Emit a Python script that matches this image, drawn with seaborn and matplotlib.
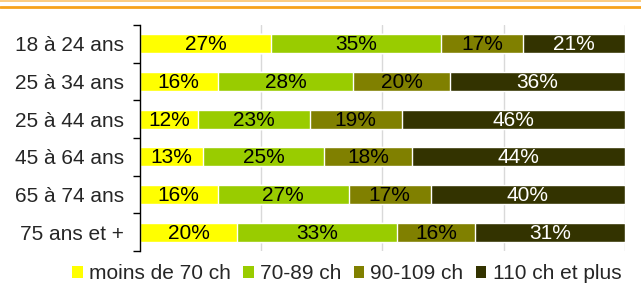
import pandas as pd
import numpy as np
import matplotlib
matplotlib.use("Agg")
import matplotlib.pyplot as plt
import seaborn as sns
from matplotlib.lines import Line2D
from matplotlib.patches import Patch

ages = ["18 à 24 ans", "25 à 34 ans", "25 à 44 ans", "45 à 64 ans", "65 à 74 ans", "75 ans et +"]
series = ["moins de 70 ch", "70-89 ch", "90-109 ch", "110 ch et plus"]
moins70 = [27, 16, 12, 13, 16, 20]
ch70_89 = [35, 28, 23, 25, 27, 33]
ch90_109 = [17, 20, 19, 18, 17, 16]
ch110 = [21, 36, 46, 44, 40, 31]
colors = ["#FFFF00", "#99CC00", "#808000", "#333300"]
text_colors = ["black", "black", "black", "white"]

df = pd.DataFrame({"age": ages, series[0]: moins70, series[1]: ch70_89,
                   series[2]: ch90_109, series[3]: ch110})
cum = df[series].cumsum(axis=1)

sns.set_style("white")
plt.rcParams["font.family"] = ["Liberation Sans", "DejaVu Sans"]

fig = plt.figure(figsize=(6.41, 2.89), dpi=100)
ax = fig.add_axes([0.2184, 0.1315, 0.7566, 0.782])

# stacked bars: draw cumulative totals from the widest down
for s, c in reversed(list(zip(series, colors))):
    sns.barplot(x=cum[s], y=df["age"], color=c, width=0.5, ax=ax,
                saturation=1, orient="h")

for i in range(len(ages)):
    left = 0
    for s, tc in zip(series, text_colors):
        v = df.loc[i, s]
        ax.text(left + v / 2, i + 0.03, f"{v}%", ha="center", va="center",
                fontsize=15, color=tc)
        left += v

ax.set_xlim(0, 100)
ax.set_ylim(len(ages) - 0.5, -0.5)
ax.set_xticks([25, 50, 75, 100])
ax.set_xticklabels([])
ax.tick_params(axis="x", length=0)
ax.grid(axis="x", color="#d9d9d9", linewidth=1)
ax.set_axisbelow(True)
ax.set_xlabel("")
ax.set_ylabel("")
ax.tick_params(axis="y", which="major", left=False, labelsize=15, pad=8)
ax.set_yticks(np.arange(-0.5, len(ages)), minor=True)
ax.tick_params(axis="y", which="minor", left=True, length=5, width=1, color="black")
for sp in ["top", "right", "bottom"]:
    ax.spines[sp].set_visible(False)
ax.spines["left"].set_color("black")
ax.spines["left"].set_linewidth(1)

handles = [Patch(facecolor=c, edgecolor="none") for c in colors]
fig.legend(handles, series, loc="lower center", bbox_to_anchor=(0.541, -0.045),
           ncol=4, frameon=False, fontsize=15, handlelength=0.5,
           handleheight=0.5, handletextpad=0.3, columnspacing=0.6)

fig.add_artist(Line2D([0, 1], [0.998, 0.998], color="#FBC36B", linewidth=1.2))
fig.add_artist(Line2D([0, 1], [0.977, 0.977], color="#F7A21B", linewidth=2))

fig.savefig("out.png", dpi=100)
